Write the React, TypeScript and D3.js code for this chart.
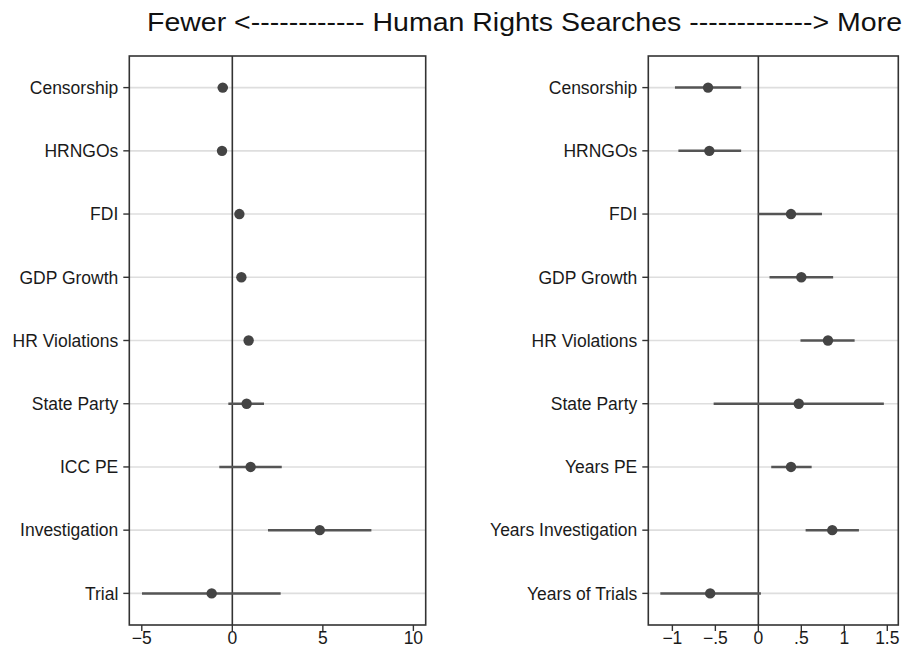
import React from "react";
import * as d3 from "d3";

const leftLabels = ["Censorship", "HRNGOs", "FDI", "GDP Growth", "HR Violations", "State Party", "ICC PE", "Investigation", "Trial"];
const leftEst = [-0.53, -0.57, 0.39, 0.5, 0.9, 0.79, 1.01, 4.83, -1.14];
const leftLo = [-0.8, -0.82, 0.2, 0.3, 0.7, -0.22, -0.72, 1.97, -4.99];
const leftHi = [-0.25, -0.3, 0.6, 0.7, 1.1, 1.75, 2.73, 7.68, 2.67];
const leftTicks = [-5, 0, 5, 10];
const leftTickLabels = ["\u22125", "0", "5", "10"];

const rightLabels = ["Censorship", "HRNGOs", "FDI", "GDP Growth", "HR Violations", "State Party", "Years PE", "Years Investigation", "Years of Trials"];
const rightEst = [-0.585, -0.57, 0.38, 0.5, 0.81, 0.47, 0.38, 0.86, -0.56];
const rightLo = [-0.97, -0.93, 0.0, 0.13, 0.49, -0.52, 0.15, 0.55, -1.14];
const rightHi = [-0.2, -0.2, 0.74, 0.87, 1.12, 1.46, 0.62, 1.17, 0.03];
const rightTicks = [-1, -0.5, 0, 0.5, 1, 1.5];
const rightTickLabels = ["\u22121", "\u2212.5", "0", ".5", "1", "1.5"];

const title = "Fewer <------------ Human Rights Searches -------------> More";

const FONT = "'Liberation Sans', Arial, Helvetica, sans-serif";

type PanelProps = {
  labels: string[];
  est: number[];
  lo: number[];
  hi: number[];
  ticks: number[];
  tickLabels: string[];
  domain: [number, number];
  x0: number;
  x1: number;
};

function Panel({ labels, est, lo, hi, ticks, tickLabels, domain, x0, x1 }: PanelProps) {
  const top = 56;
  const bottom = 625;
  const x = d3.scaleLinear().domain(domain).range([x0, x1]);
  const y = d3.scaleLinear().domain([0.5, labels.length + 0.5]).range([top, bottom]);
  const frame = "#333";
  return (
    <g>
      {labels.map((l, i) => (
        <line key={"g" + i} x1={x0} x2={x1} y1={y(i + 1)} y2={y(i + 1)} stroke="#dedede" strokeWidth={1.6} />
      ))}
      <line x1={x(0)} x2={x(0)} y1={top} y2={bottom} stroke={frame} strokeWidth={1.6} />
      {labels.map((l, i) => (
        <line key={"e" + i} x1={x(lo[i])} x2={x(hi[i])} y1={y(i + 1)} y2={y(i + 1)} stroke="#555" strokeWidth={2.5} />
      ))}
      {labels.map((l, i) => (
        <circle key={"c" + i} cx={x(est[i])} cy={y(i + 1)} r={5.2} fill="#444" />
      ))}
      <rect x={x0} y={top} width={x1 - x0} height={bottom - top} fill="none" stroke={frame} strokeWidth={1.6} />
      {labels.map((l, i) => (
        <g key={"l" + i}>
          <line x1={x0 - 6} x2={x0} y1={y(i + 1)} y2={y(i + 1)} stroke={frame} strokeWidth={1.4} />
          <text x={x0 - 11} y={y(i + 1)} dy="0.36em" textAnchor="end" fontSize={17.5} fill="#1a1a1a" fontFamily={FONT}>
            {l}
          </text>
        </g>
      ))}
      {ticks.map((t, i) => (
        <g key={"t" + i}>
          <line x1={x(t)} x2={x(t)} y1={bottom} y2={bottom + 6} stroke={frame} strokeWidth={1.4} />
          <text x={x(t)} y={bottom + 19} textAnchor="middle" fontSize={17.5} fill="#1a1a1a" fontFamily={FONT}>
            {tickLabels[i]}
          </text>
        </g>
      ))}
    </g>
  );
}

export default function App() {
  return (
    <svg width={908} height={657} style={{ position: "absolute", left: 0, top: 0, background: "#fff" }}>
      <rect x={0} y={0} width={908} height={657} fill="#fff" />
      <text x={147} y={30.5} fontSize={26} fill="#111" fontFamily={FONT} textLength={755} lengthAdjust="spacingAndGlyphs">
        {title}
      </text>
      <Panel
        labels={leftLabels}
        est={leftEst}
        lo={leftLo}
        hi={leftHi}
        ticks={leftTicks}
        tickLabels={leftTickLabels}
        domain={[-5.69, 10.68]}
        x0={129.3}
        x1={425.7}
      />
      <Panel
        labels={rightLabels}
        est={rightEst}
        lo={rightLo}
        hi={rightHi}
        ticks={rightTicks}
        tickLabels={rightTickLabels}
        domain={[-1.28, 1.628]}
        x0={648.3}
        x1={898.3}
      />
    </svg>
  );
}
